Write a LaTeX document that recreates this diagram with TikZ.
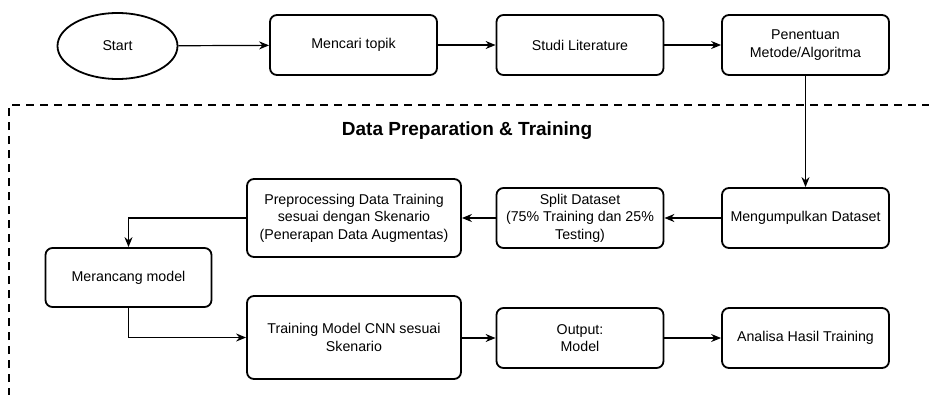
\documentclass[tikz,border=0pt]{standalone}
\usepackage{fontspec}
\setmainfont{Liberation Sans}
\usetikzlibrary{arrows.meta,shapes.geometric}
\begin{document}
\begin{tikzpicture}[x=1pt,y=-1pt,
  box/.style={draw,line width=1.8pt,rounded corners=7pt,align=center,inner sep=0pt,
    font=\fontsize{14.2}{17.5}\selectfont},
  arr/.style={line width=1.2pt,-{Stealth[length=10pt,width=8pt]}},
  ]
\useasboundingbox (0,0) rectangle (929,394);
% dashed group border
\draw[line width=2pt,dash pattern=on 8pt off 6pt] (9,396) -- (9,105) -- (931,105);
\node[font=\fontsize{19}{22}\selectfont\bfseries] (title) at (467,131) {Data Preparation \& Training};
% nodes
\node[draw,line width=1.8pt,ellipse,minimum width=120pt,minimum height=66pt,inner sep=0pt,
  font=\fontsize{14.2}{17.5}\selectfont] (start) at (117.5,46) {Start};
\node[box,minimum width=167pt,minimum height=60pt] (cari) at (353.5,45) {Mencari topik};
\node[box,minimum width=167pt,minimum height=60pt] (studi) at (580,45) {Studi Literature};
\node[box,minimum width=167pt,minimum height=60pt] (tentu) at (805.5,45) {Penentuan\\Metode/Algoritma};
\node[box,minimum width=167pt,minimum height=60pt] (kumpul) at (805.5,218) {Mengumpulkan Dataset};
\node[box,minimum width=167pt,minimum height=60pt] (split) at (580,218) {Split Dataset\\(75\% Training dan 25\%\\Testing)};
\node[box,minimum width=214pt,minimum height=78pt] (prep) at (354,218) {Preprocessing Data Training\\sesuai dengan Skenario\\(Penerapan Data Augmentas)};
\node[box,minimum width=166pt,minimum height=59pt] (rancang) at (128.5,277.5) {Merancang model};
\node[box,minimum width=214pt,minimum height=83pt] (train) at (354,337.5) {Training Model CNN sesuai\\Skenario};
\node[box,minimum width=167pt,minimum height=60pt] (output) at (580,338) {Output:\\Model};
\node[box,minimum width=167pt,minimum height=60pt] (analisa) at (805.5,338) {Analisa Hasil Training};
% connectors
\draw[arr] (start) -- (cari);
\draw[arr] (cari) -- (studi);
\draw[arr] (studi) -- (tentu);
\draw[arr] (tentu) -- (kumpul);
\draw[arr] (kumpul) -- (split);
\draw[arr] (split) -- (prep);
\draw[arr] (prep.west) -| (rancang.north);
\draw[arr] (rancang.south) |- (train.west);
\draw[arr] (train.east |- output) -- (output);
\draw[arr] (output) -- (analisa);
\end{tikzpicture}
\end{document}
